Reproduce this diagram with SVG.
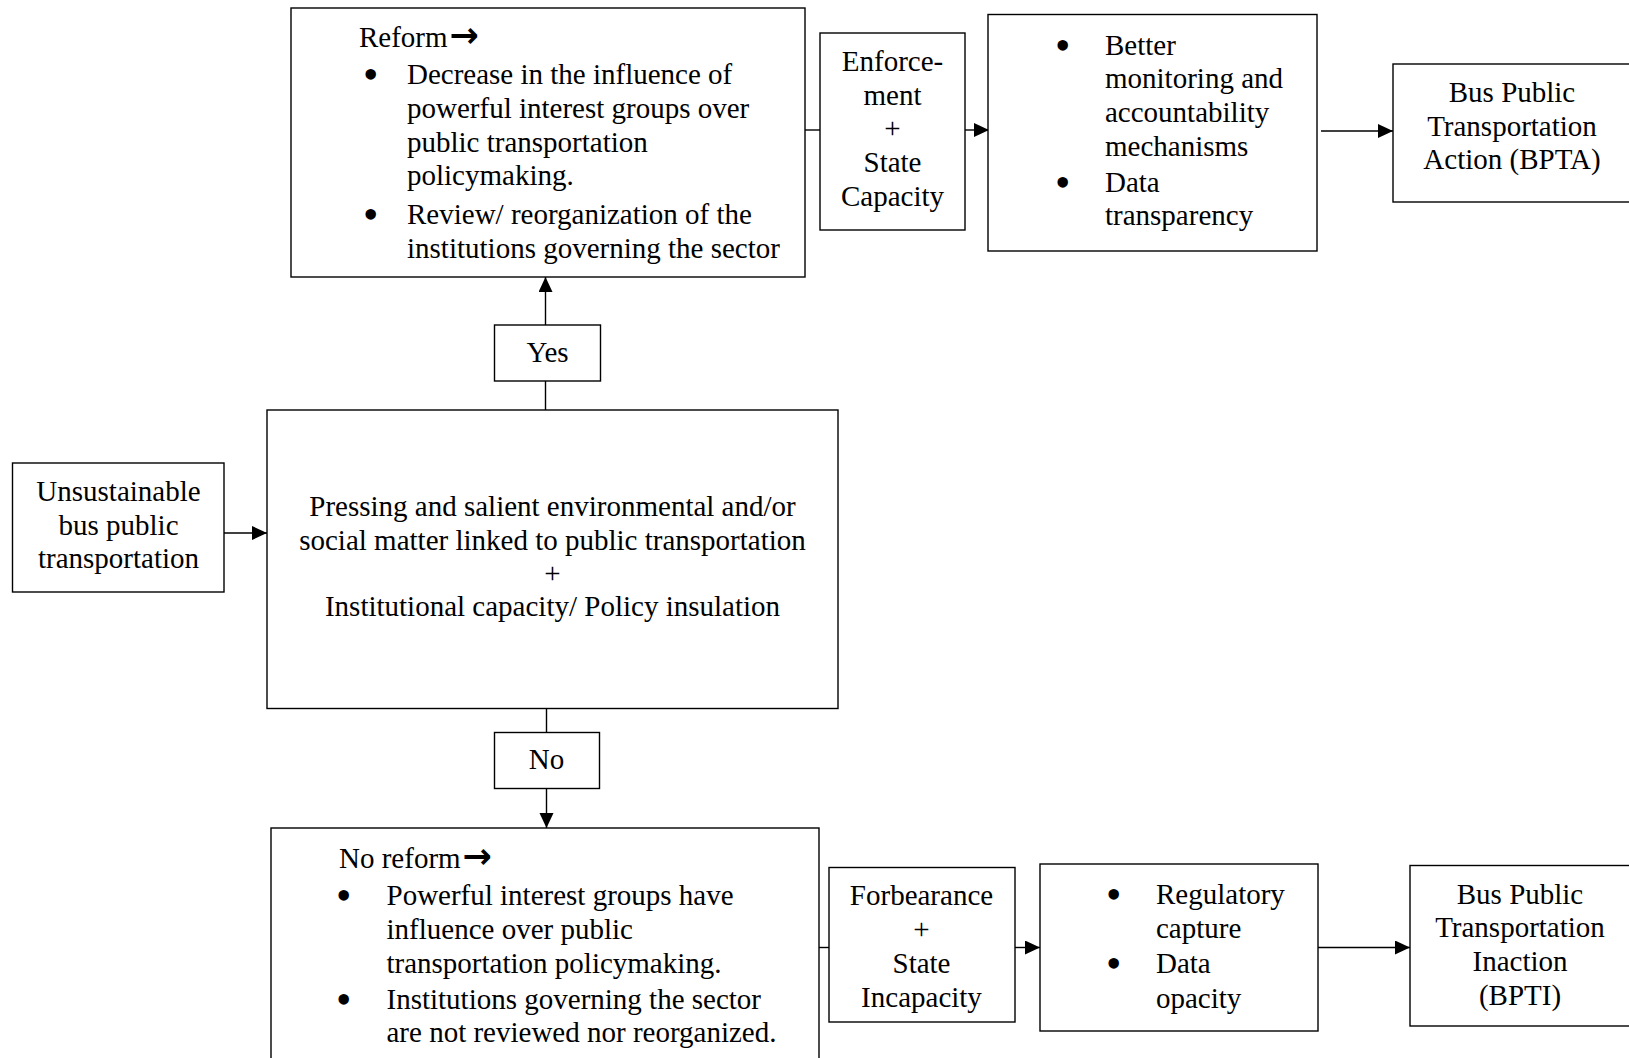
<svg xmlns="http://www.w3.org/2000/svg" width="1629" height="1058" viewBox="0 0 1629 1058">
<style>
.box{fill:#fff;stroke:#000;stroke-width:1.4}
.t{font-family:"Liberation Serif","Times New Roman",serif;font-size:29px;fill:#000}
.c{text-anchor:middle}
.b{font-family:"Liberation Serif","Times New Roman",serif;font-size:44px;fill:#000}
.ar{font-family:"DejaVu Sans",sans-serif;font-weight:bold;font-size:35px}
.ln{stroke:#000;stroke-width:1.4;fill:none}
</style>
<defs>
<marker id="ah" markerUnits="userSpaceOnUse" markerWidth="16" markerHeight="16" refX="15" refY="7" orient="auto">
<path d="M0,0 L15,7 L0,14 z" fill="#000"/>
</marker>
</defs>
<rect width="1629" height="1058" fill="#fff"/>
<g id="connectors">
<line class="ln" x1="805" y1="130" x2="820" y2="130"/>
<line class="ln" x1="965" y1="130" x2="989" y2="130" marker-end="url(#ah)"/>
<line class="ln" x1="1321" y1="131" x2="1393" y2="131" marker-end="url(#ah)"/>
<line class="ln" x1="545.5" y1="410" x2="545.5" y2="381"/>
<line class="ln" x1="545.5" y1="325" x2="545.5" y2="277" marker-end="url(#ah)"/>
<line class="ln" x1="224" y1="533" x2="267" y2="533" marker-end="url(#ah)"/>
<line class="ln" x1="546.5" y1="708.5" x2="546.5" y2="732.5"/>
<line class="ln" x1="546.5" y1="788.5" x2="546.5" y2="828" marker-end="url(#ah)"/>
<line class="ln" x1="819" y1="947.5" x2="829" y2="947.5"/>
<line class="ln" x1="1015" y1="947.5" x2="1040" y2="947.5" marker-end="url(#ah)"/>
<line class="ln" x1="1318" y1="947.5" x2="1410" y2="947.5" marker-end="url(#ah)"/>
</g>
<g id="reform">
<rect class="box" x="291" y="8" width="514" height="269"/>
<text class="t" x="359" y="47">Reform<tspan class="ar" dx="2">→</tspan></text>
<text class="b" x="363" y="89">•</text>
<text class="t" x="407" y="84">Decrease in the influence of</text>
<text class="t" x="407" y="118">powerful interest groups over</text>
<text class="t" x="407" y="152">public transportation</text>
<text class="t" x="407" y="185">policymaking.</text>
<text class="b" x="363" y="229">•</text>
<text class="t" x="407" y="224">Review/ reorganization of the</text>
<text class="t" x="407" y="258">institutions governing the sector</text>
</g>
<g id="enforcement">
<rect class="box" x="820" y="33" width="145" height="197"/>
<text class="t c" x="892.5" y="71">Enforce-</text>
<text class="t c" x="892.5" y="105">ment</text>
<text class="t c" x="892.5" y="138">+</text>
<text class="t c" x="892.5" y="172">State</text>
<text class="t c" x="892.5" y="206">Capacity</text>
</g>
<g id="better">
<rect class="box" x="988" y="14.5" width="329" height="236.5"/>
<text class="b" x="1055" y="60">•</text>
<text class="t" x="1105" y="55">Better</text>
<text class="t" x="1105" y="88">monitoring and</text>
<text class="t" x="1105" y="122">accountability</text>
<text class="t" x="1105" y="156">mechanisms</text>
<text class="b" x="1055" y="197">•</text>
<text class="t" x="1105" y="192">Data</text>
<text class="t" x="1105" y="225">transparency</text>
</g>
<g id="bpta">
<rect class="box" x="1393" y="64" width="245" height="138"/>
<text class="t c" x="1512" y="102">Bus Public</text>
<text class="t c" x="1512" y="136">Transportation</text>
<text class="t c" x="1512" y="169">Action (BPTA)</text>
</g>
<g id="yes">
<rect class="box" x="494.5" y="325" width="106" height="56"/>
<text class="t c" x="547.5" y="362">Yes</text>
</g>
<g id="unsustainable">
<rect class="box" x="12.5" y="463" width="211.5" height="129"/>
<text class="t c" x="118.5" y="501">Unsustainable</text>
<text class="t c" x="118.5" y="535">bus public</text>
<text class="t c" x="118.5" y="568">transportation</text>
</g>
<g id="main">
<rect class="box" x="267" y="410" width="571" height="298.5"/>
<text class="t c" x="552.5" y="516">Pressing and salient environmental and/or</text>
<text class="t c" x="552.5" y="550">social matter linked to public transportation</text>
<text class="t c" x="552.5" y="583">+</text>
<text class="t c" x="552.5" y="616">Institutional capacity/ Policy insulation</text>
</g>
<g id="no">
<rect class="box" x="494.5" y="732.5" width="105" height="56"/>
<text class="t c" x="546.5" y="769">No</text>
</g>
<g id="noreform">
<rect class="box" x="271" y="828" width="548" height="240"/>
<text class="t" x="339" y="868">No reform<tspan class="ar" dx="2">→</tspan></text>
<text class="b" x="336" y="910">•</text>
<text class="t" x="386.5" y="905">Powerful interest groups have</text>
<text class="t" x="386.5" y="939">influence over public</text>
<text class="t" x="386.5" y="973">transportation policymaking.</text>
<text class="b" x="336" y="1014">•</text>
<text class="t" x="386.5" y="1009">Institutions governing the sector</text>
<text class="t" x="386.5" y="1042">are not reviewed nor reorganized.</text>
</g>
<g id="forbearance">
<rect class="box" x="829" y="867.5" width="186" height="154.5"/>
<text class="t c" x="921.5" y="905">Forbearance</text>
<text class="t c" x="921.5" y="939">+</text>
<text class="t c" x="921.5" y="973">State</text>
<text class="t c" x="921.5" y="1007">Incapacity</text>
</g>
<g id="regulatory">
<rect class="box" x="1040" y="864" width="278" height="167"/>
<text class="b" x="1106" y="909">•</text>
<text class="t" x="1156" y="904">Regulatory</text>
<text class="t" x="1156" y="938">capture</text>
<text class="b" x="1106" y="978">•</text>
<text class="t" x="1156" y="973">Data</text>
<text class="t" x="1156" y="1008">opacity</text>
</g>
<g id="bpti">
<rect class="box" x="1410" y="865.5" width="230" height="160.5"/>
<text class="t c" x="1520" y="904">Bus Public</text>
<text class="t c" x="1520" y="937">Transportation</text>
<text class="t c" x="1520" y="971">Inaction</text>
<text class="t c" x="1520" y="1005">(BPTI)</text>
</g>
</svg>
